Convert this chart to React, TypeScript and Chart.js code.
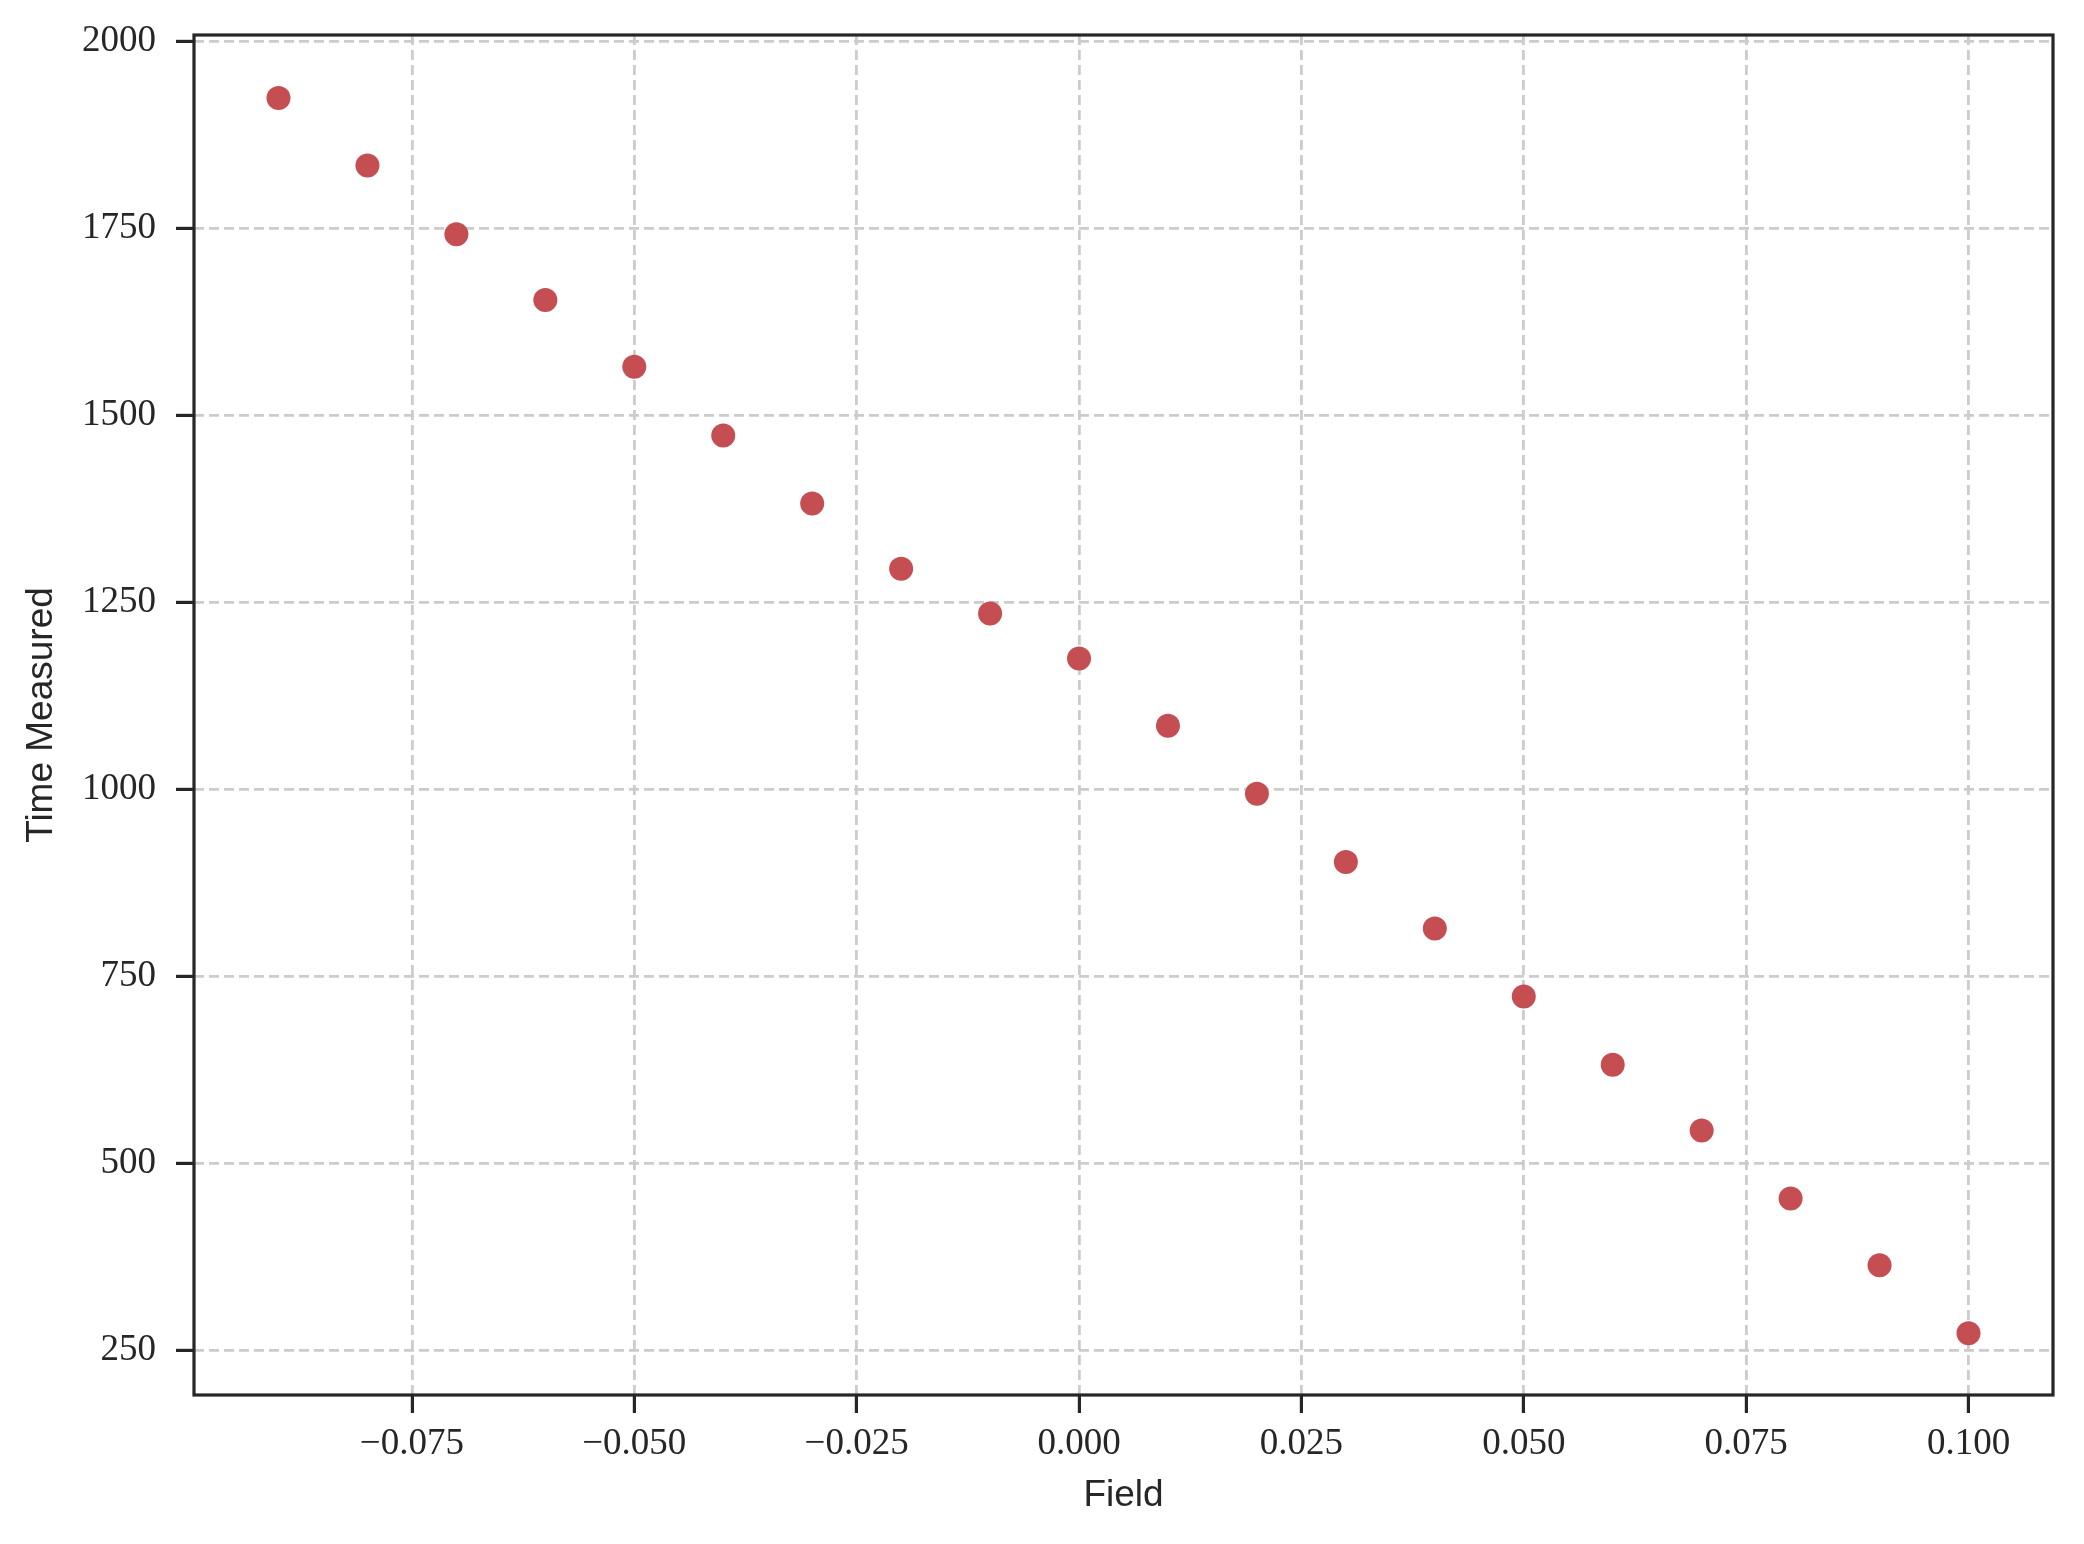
import React, { useEffect, useRef } from "react";
import { Chart, registerables } from "chart.js";

Chart.register(...registerables);

// ---- data ----
const fieldValues = [
  -0.09, -0.08, -0.07, -0.06, -0.05, -0.04, -0.03, -0.02, -0.01, 0.0,
  0.01, 0.02, 0.03, 0.04, 0.05, 0.06, 0.07, 0.08, 0.09, 0.1,
];
const timeMeasured = [
  1924, 1834, 1742, 1654, 1565, 1473, 1382, 1295, 1235, 1175,
  1085, 994, 903, 814, 723, 632, 544, 453, 364, 273,
];
const xTickValues = [-0.075, -0.05, -0.025, 0, 0.025, 0.05, 0.075, 0.1];
const yTickValues = [250, 500, 750, 1000, 1250, 1500, 1750, 2000];
const xAxisTitle = "Field";
const yAxisTitle = "Time Measured";
const xRange = [-0.0995, 0.1095];
const yRange = [190.5, 2008.3];

const W = 2084;
const H = 1544;
const INK = "#262626";
const GRID = "#cccccc";
const POINT = "#C44E52";
const TICK_FONT = { family: "'Liberation Serif', 'DejaVu Serif', serif", size: 37 };
const TITLE_FONT = { family: "'Liberation Sans', Arial, sans-serif", size: 37 };

const fmt = (v: number, digits: number) => {
  const s = Math.abs(v) < 1e-12 ? (0).toFixed(digits) : v.toFixed(digits);
  return s.replace("-", "\u2212");
};

const framePlugin = {
  id: "frame",
  afterDraw(chart: any) {
    const { ctx, chartArea } = chart;
    ctx.save();
    ctx.strokeStyle = INK;
    ctx.lineWidth = 3.2;
    ctx.strokeRect(
      chartArea.left,
      chartArea.top,
      chartArea.right - chartArea.left,
      chartArea.bottom - chartArea.top
    );
    ctx.restore();
  },
};

export default function App() {
  const ref = useRef<HTMLCanvasElement | null>(null);

  useEffect(() => {
    document.body.style.margin = "0";
    const canvas = ref.current;
    if (!canvas) return;
    const points = fieldValues.map((x, i) => ({ x, y: timeMeasured[i] }));

    const chart = new Chart(canvas, {
      type: "scatter",
      data: {
        datasets: [
          {
            data: points,
            backgroundColor: POINT,
            borderColor: POINT,
            borderWidth: 0,
            pointRadius: 12,
            pointHoverRadius: 12,
          },
        ],
      },
      plugins: [framePlugin],
      options: {
        responsive: false,
        animation: false,
        events: [],
        layout: { padding: { top: 35, right: 31, left: 0, bottom: 0 } },
        plugins: {
          legend: { display: false },
          tooltip: { enabled: false },
        },
        scales: {
          x: {
            type: "linear",
            position: "bottom",
            min: xRange[0],
            max: xRange[1],
            afterBuildTicks: (axis: any) => {
              axis.ticks = xTickValues.map((value) => ({ value }));
            },
            afterFit: (axis: any) => {
              axis.height = H - 1395;
              axis.paddingLeft = 0;
              axis.paddingRight = 0;
            },
            ticks: {
              autoSkip: false,
              maxRotation: 0,
              minRotation: 0,
              padding: 9,
              color: INK,
              font: TICK_FONT,
              callback: (v: any) => fmt(Number(v), 3),
            },
            grid: {
              color: GRID,
              lineWidth: 2.8,
              drawTicks: true,
              tickLength: 18,
              tickWidth: 3.2,
              tickColor: INK,
            },
            border: { display: false, dash: [10, 5] },
            title: {
              display: true,
              text: xAxisTitle,
              color: INK,
              font: TITLE_FONT,
              padding: { top: 0, bottom: 26 },
            },
          },
          y: {
            type: "linear",
            position: "left",
            min: yRange[0],
            max: yRange[1],
            afterBuildTicks: (axis: any) => {
              axis.ticks = yTickValues.map((value) => ({ value }));
            },
            afterFit: (axis: any) => {
              axis.width = 194;
              axis.paddingTop = 0;
              axis.paddingBottom = 0;
            },
            ticks: {
              autoSkip: false,
              padding: 20,
              color: INK,
              font: TICK_FONT,
              callback: (v: any) => fmt(Number(v), 0),
            },
            grid: {
              color: GRID,
              lineWidth: 2.8,
              drawTicks: true,
              tickLength: 18,
              tickWidth: 3.2,
              tickColor: INK,
            },
            border: { display: false, dash: [10, 5] },
            title: {
              display: true,
              text: yAxisTitle,
              color: INK,
              font: TITLE_FONT,
              padding: { top: 20, bottom: 0 },
            },
          },
        },
      } as any,
    });

    return () => chart.destroy();
  }, []);

  return (
    <div style={{ position: "absolute", left: 0, top: 0, width: W, height: H, background: "#fff" }}>
      <canvas ref={ref} width={W} height={H} style={{ display: "block", width: W, height: H }} />
    </div>
  );
}
